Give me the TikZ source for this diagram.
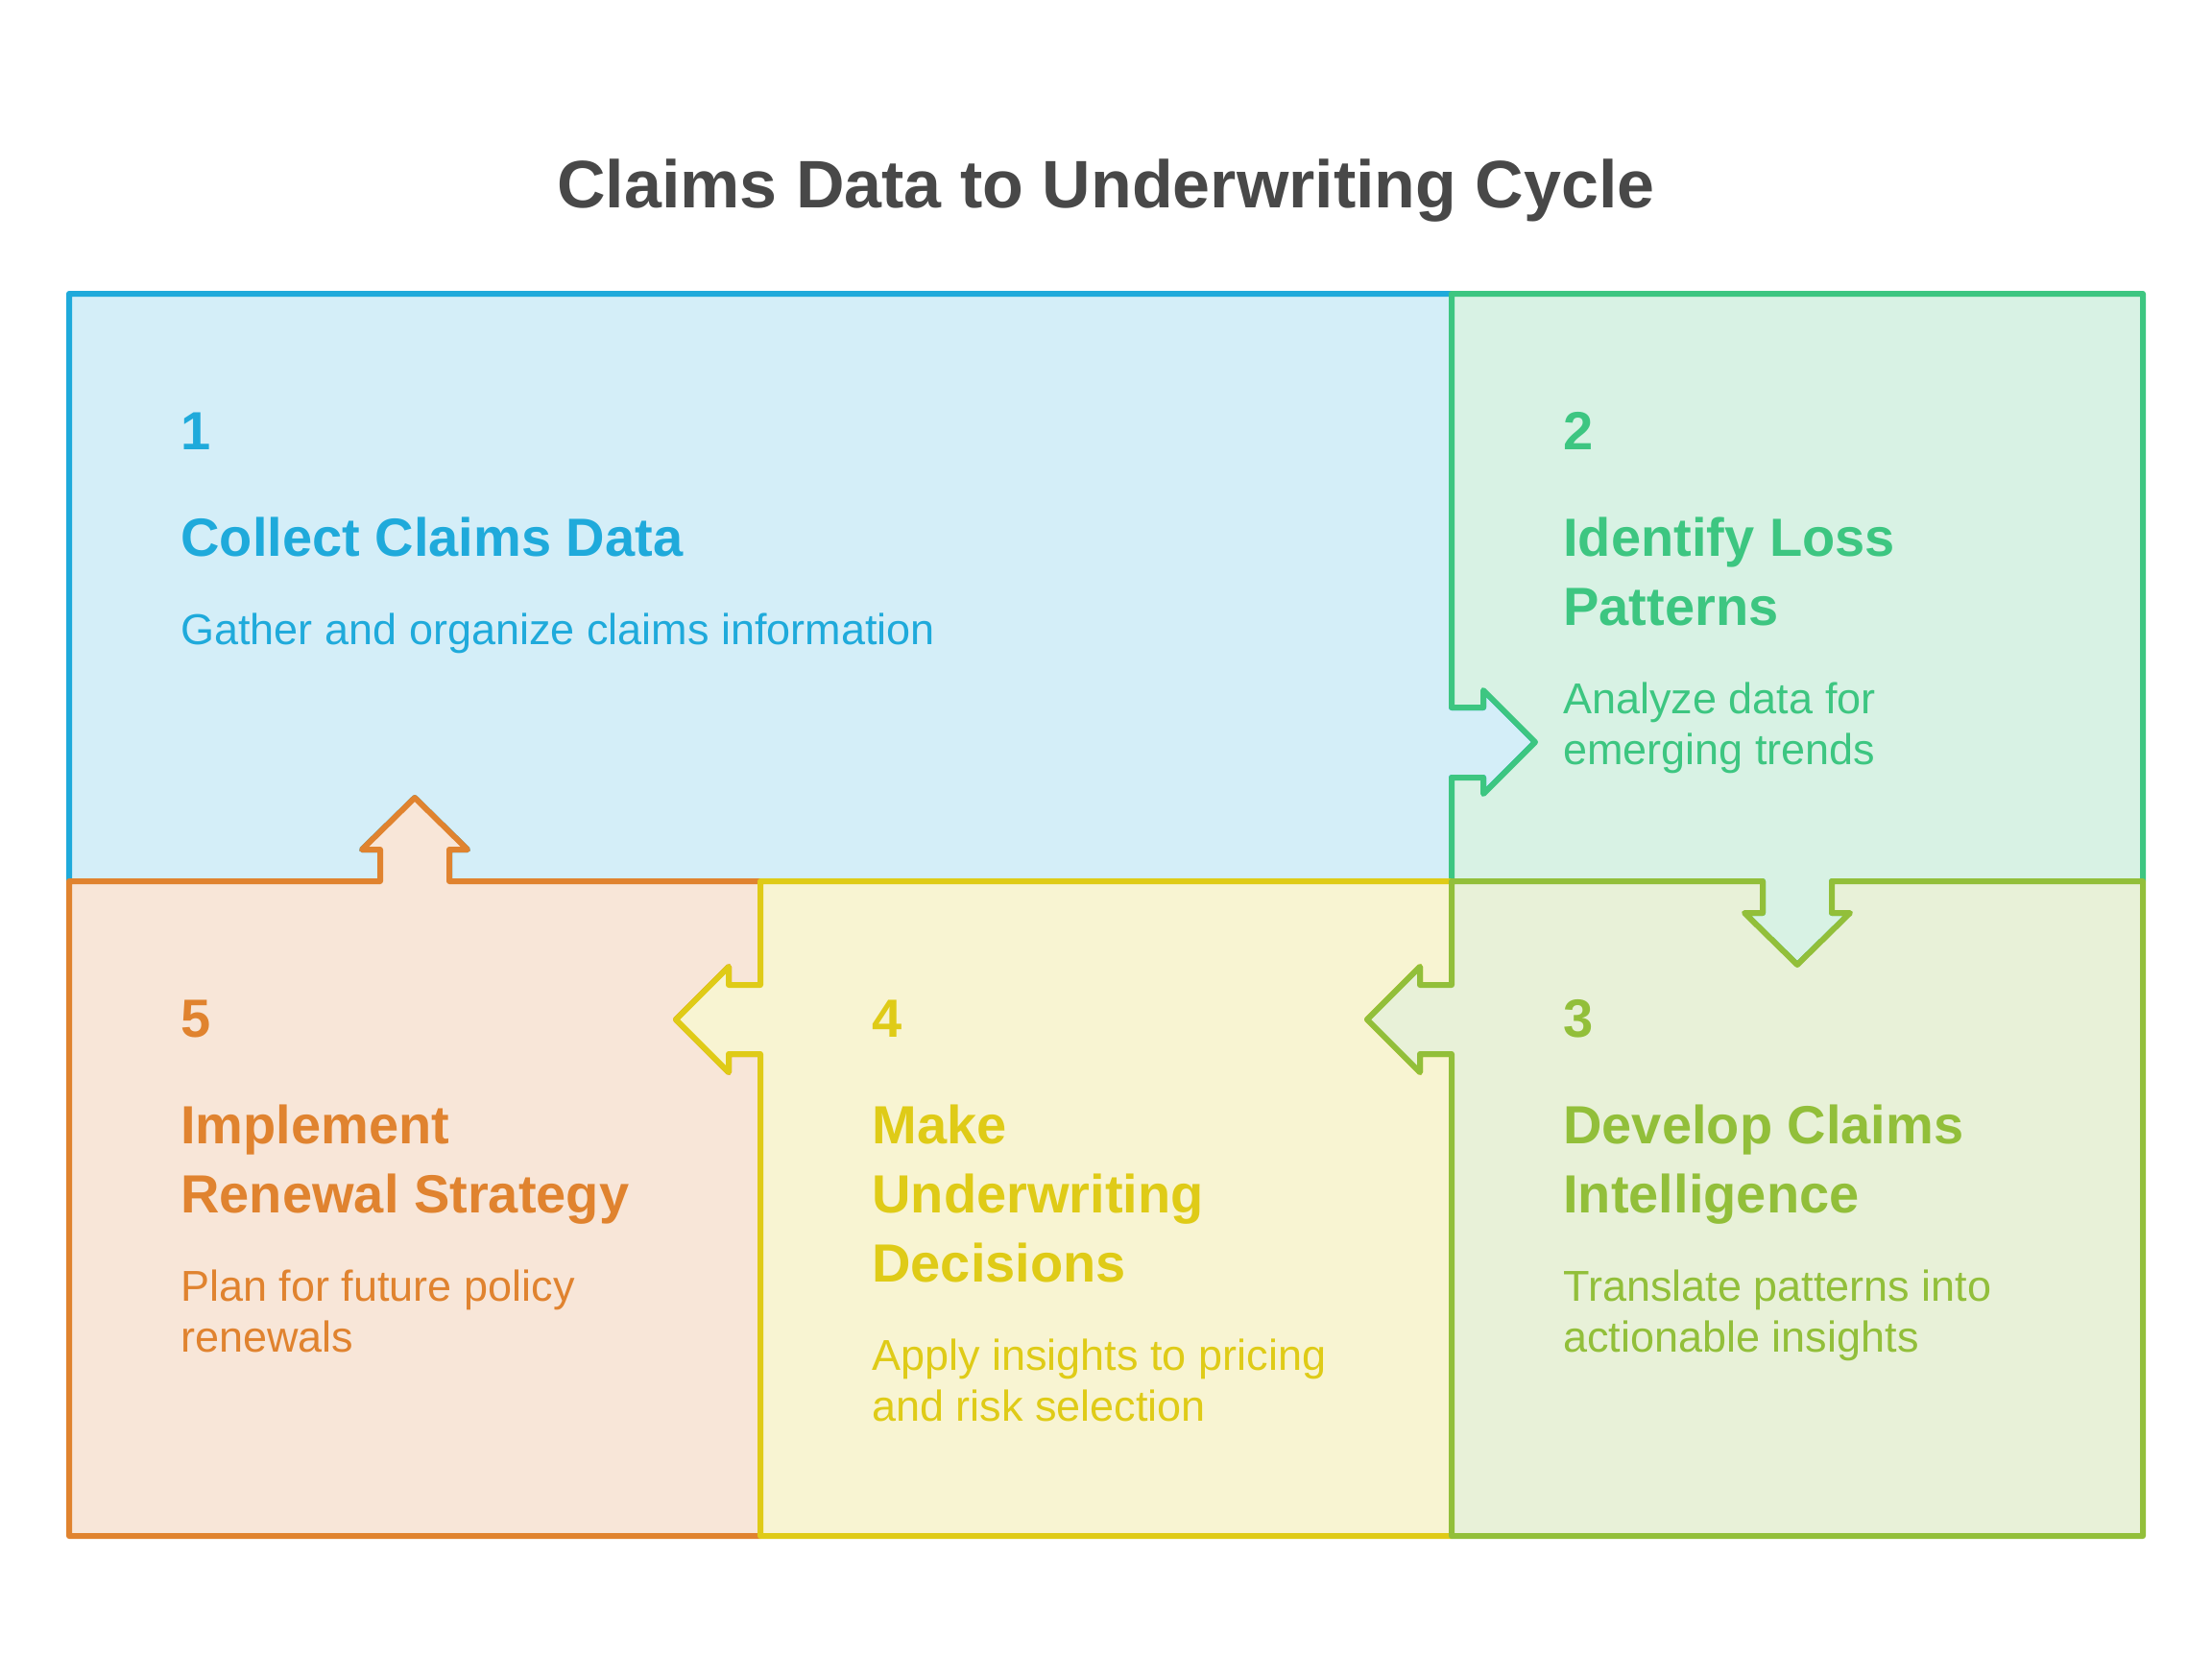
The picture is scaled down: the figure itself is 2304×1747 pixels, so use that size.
\documentclass[tikz,border=0pt]{standalone}
\usepackage{fontspec}
\setmainfont{Liberation Sans}
\definecolor{blueln}{HTML}{1FAADB}
\definecolor{bluefl}{HTML}{D4EEF8}
\definecolor{greenln}{HTML}{3DC681}
\definecolor{greenfl}{HTML}{D8F2E4}
\definecolor{limeln}{HTML}{92BF3A}
\definecolor{limefl}{HTML}{E8F1D8}
\definecolor{yellowln}{HTML}{DFCB17}
\definecolor{yellowfl}{HTML}{F8F4D2}
\definecolor{orangeln}{HTML}{E0832F}
\definecolor{orangefl}{HTML}{F8E6D8}
\definecolor{titlegray}{HTML}{484848}

\begin{document}
\begin{tikzpicture}[x=0.5pt,y=-0.5pt,join=round,
        box/.style={line width=3pt},
        num/.style={anchor=base west,inner sep=0pt,font=\bfseries\fontsize{28}{36}\selectfont},
        head/.style={anchor=base west,inner sep=0pt,align=left,font=\bfseries\fontsize{28}{36}\selectfont},
        desc/.style={anchor=base west,inner sep=0pt,align=left,font=\fontsize{22.5}{26.5}\selectfont}]
        \fill[white](0,0) rectangle (2304,1747);
        \useasboundingbox (0,0) rectangle (2304,1747);
        \node[anchor=base,inner sep=0pt,text=titlegray,font=\bfseries\fontsize{35}{42}\selectfont] (title) at (1152,216) {Claims Data to Underwriting Cycle};
        % step 1, arrow out to the right
        \filldraw[box,draw=blueln,fill=bluefl](72,306)--(1512,306)--(1512,737)--(1545,737)--(1545,719)--(1599,773)--(1545,827)--(1545,810)--(1512,810)--(1512,918)--(468,918)--(468,885)--(487,885)--(432,831)--(377,885)--(396,885)--(396,918)--(72,918)--cycle;
        % step 2, arrow down
        \filldraw[box,draw=greenln,fill=greenfl](1512,306)--(2232,306)--(2232,918)--(1908,918)--(1908,951)--(1927,951)--(1872,1005)--(1817,951)--(1836,951)--(1836,918)--(1512,918)--(1512,810)--(1545,810)--(1545,827)--(1599,773)--(1545,719)--(1545,737)--(1512,737)--cycle;
        % step 5, arrow up
        \filldraw[box,draw=orangeln,fill=orangefl](72,918)--(396,918)--(396,885)--(377,885)--(432,831)--(487,885)--(468,885)--(468,918)--(792,918)--(792,1026)--(759,1026)--(759,1007)--(704,1062)--(759,1117)--(759,1098)--(792,1098)--(792,1600)--(72,1600)--cycle;
        % step 4, arrow left
        \filldraw[box,draw=yellowln,fill=yellowfl](792,918)--(1512,918)--(1512,1026)--(1479,1026)--(1479,1007)--(1424,1062)--(1479,1117)--(1479,1098)--(1512,1098)--(1512,1600)--(792,1600)--(792,1098)--(759,1098)--(759,1117)--(704,1062)--(759,1007)--(759,1026)--(792,1026)--cycle;
        % step 3, arrow left
        \filldraw[box,draw=limeln,fill=limefl](1512,918)--(1836,918)--(1836,951)--(1817,951)--(1872,1005)--(1927,951)--(1908,951)--(1908,918)--(2232,918)--(2232,1600)--(1512,1600)--(1512,1098)--(1479,1098)--(1479,1117)--(1424,1062)--(1479,1007)--(1479,1026)--(1512,1026)--cycle;
        % texts (base = last line)
        \node[num,text=blueln] (n1) at (188,468) {1};
        \node[head,text=blueln] (h1) at (188,579) {Collect Claims Data};
        \node[desc,text=blueln] (d1) at (188,671) {Gather and organize claims information};
        \node[num,text=greenln] (n2) at (1628,468) {2};
        \node[head,text=greenln] (h2) at (1628,651) {Identify Loss\\Patterns};
        \node[desc,text=greenln] (d2) at (1628,796) {Analyze data for\\emerging trends};
        \node[num,text=limeln] (n3) at (1628,1080) {3};
        \node[head,text=limeln] (h3) at (1628,1263) {Develop Claims\\Intelligence};
        \node[desc,text=limeln] (d3) at (1628,1408) {Translate patterns into\\actionable insights};
        \node[num,text=yellowln] (n4) at (908,1080) {4};
        \node[head,text=yellowln] (h4) at (908,1335) {Make\\Underwriting\\Decisions};
        \node[desc,text=yellowln] (d4) at (908,1480) {Apply insights to pricing\\and risk selection};
        \node[num,text=orangeln] (n5) at (188,1080) {5};
        \node[head,text=orangeln] (h5) at (188,1263) {Implement\\Renewal Strategy};
        \node[desc,text=orangeln] (d5) at (188,1408) {Plan for future policy\\renewals};
    \end{tikzpicture}
\end{document}
